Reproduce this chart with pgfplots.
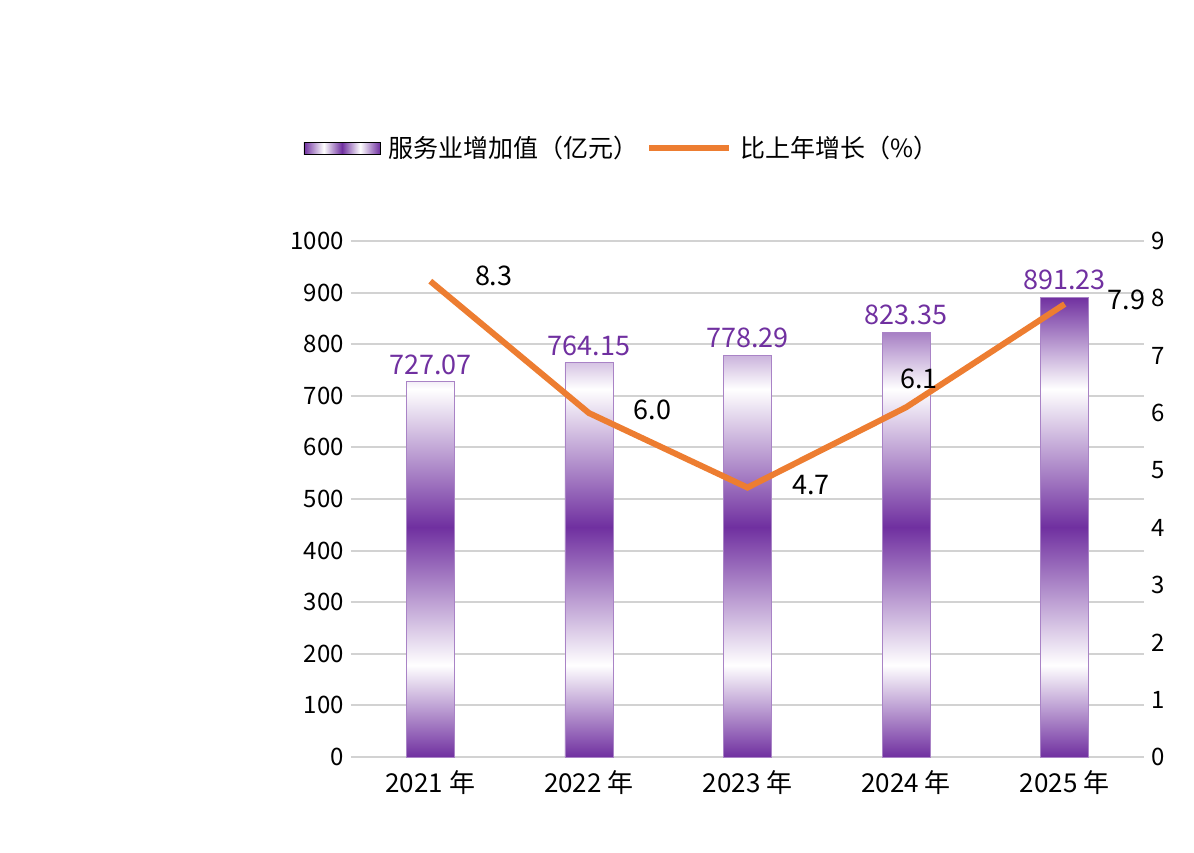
\documentclass[border=0pt]{standalone}
\usepackage{pgfplots}
\pgfplotsset{compat=1.18}
\usepackage{fontspec}
\setmainfont{Noto Sans CJK SC}
\definecolor{pur}{HTML}{7030A0}
\definecolor{org}{HTML}{ED7D31}
\pgfdeclareverticalshading{barshade}{100bp}{color(0bp)=(pur); color(25bp)=(pur); color(35bp)=(white); color(50bp)=(pur); color(65bp)=(white); color(75bp)=(pur); color(100bp)=(pur)}
\pgfdeclarehorizontalshading{legshade}{100bp}{color(0bp)=(pur); color(25bp)=(pur); color(38bp)=(white); color(50bp)=(pur); color(62bp)=(white); color(75bp)=(pur); color(100bp)=(pur)}
\begin{document}
\begin{tikzpicture}
\path[use as bounding box] (-175.5pt,-47.5pt) rectangle (421.5pt,378.5pt);
\begin{axis}[at={(0,0)},anchor=south west,scale only axis,width=396.5pt,height=258pt,
 xmin=-0.5,xmax=4.5,ymin=0,ymax=1000,ytick={0,100,...,1000},
 xtick={0,1,2,3,4},xticklabels={2021 年,2022 年,2023 年,2024 年,2025 年},
 axis line style={draw=none},tick style={draw=none},
 ymajorgrids,grid style={gray!35,line width=1pt},
 x axis line style={draw=gray!35,line width=1pt},
 ticklabel style={font=\fontsize{12}{14}\selectfont},
 xticklabel style={font=\fontsize{13}{15}\selectfont,yshift=-3pt},
 /pgf/number format/assume math mode=true,
 yticklabel style={/pgf/number format/1000 sep={}},
 nodes near coords,nodes near coords style={font=\fontsize{13.5}{15}\selectfont,text=pur,/pgf/number format/fixed,/pgf/number format/fixed zerofill,/pgf/number format/precision=2,/pgf/number format/assume math mode=true},
 ]
\addplot[ybar,bar width=24pt,draw=pur!60,shading=barshade] coordinates {(0,727.07)(1,764.15)(2,778.29)(3,823.35)(4,891.23)};
\end{axis}
\begin{axis}[at={(0,0)},anchor=south west,scale only axis,width=396.5pt,height=258pt,
 xmin=-0.5,xmax=4.5,ymin=0,ymax=9,ytick={0,...,9},axis y line*=right,axis x line=none,
 axis line style={draw=none},tick style={draw=none},
 ticklabel style={font=\fontsize{12}{14}\selectfont},
 /pgf/number format/assume math mode=true,
 legend columns=2,
 legend style={at={(0.343,1.18)},anchor=center,draw=none,font=\fontsize{12.5}{14}\selectfont,column sep=2pt},
 legend image code/.code={}]
\addlegendimage{legend image code/.code={\shade[shading=legshade] (0pt,-3pt) rectangle (38pt,3pt);}}
\addlegendentry{服务业增加值（亿元）}
\addlegendimage{legend image code/.code={\draw[org,line width=3pt] (0pt,0pt) -- (40pt,0pt);}}
\addlegendentry{比上年增长（\%）}
\addplot[org,line width=3pt,no marks,forget plot] coordinates {(0,8.3)(1,6.0)(2,4.7)(3,6.1)(4,7.9)};
\tikzset{lab/.style={font=\fontsize{13.5}{15}\selectfont}}
\node[lab] at (axis cs:0.4,8.4) {8.3};
\node[lab] at (axis cs:1.4,6.05) {6.0};
\node[lab] at (axis cs:2.4,4.75) {4.7};
\node[lab] at (axis cs:3.08,6.6) {6.1};
\node[lab] at (axis cs:4.39,7.98) {7.9};
\end{axis}
\end{tikzpicture}
\end{document}
